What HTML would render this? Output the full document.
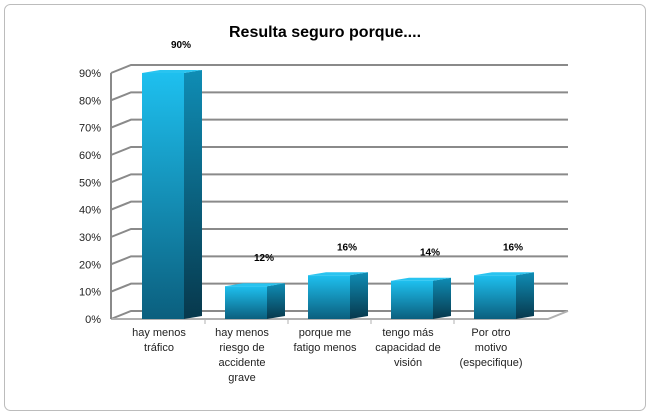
<!DOCTYPE html>
<html><head><meta charset="utf-8"><style>
body{margin:0;background:#fff;font-family:"Liberation Sans",sans-serif}
svg{display:block}
</style></head><body>
<svg width="650" height="415">
<defs>
<linearGradient id="front" x1="0" y1="0" x2="0" y2="1"><stop offset="0" stop-color="#1ec0ef"/><stop offset="1" stop-color="#0b5f7e"/></linearGradient>
<linearGradient id="side" x1="0" y1="0" x2="0" y2="1"><stop offset="0" stop-color="#0f8db5"/><stop offset="1" stop-color="#07384c"/></linearGradient>
</defs>
<rect x="4.5" y="4.5" width="641" height="406" rx="6" fill="#fff" stroke="#bcbcbc"/>
<text x="325" y="37" text-anchor="middle" font-size="16" font-weight="bold">Resulta seguro porque....</text>
<g id="grid"></g><g id="bars"></g><g id="labels"></g>
</svg>
<script>
const categories=[["hay menos","tráfico"],["hay menos","riesgo de","accidente","grave"],["porque me","fatigo menos"],["tengo más","capacidad de","visión"],["Por otro","motivo","(especifique)"]];
const values=[90,12,16,14,16];
const valueLabels=["90%","12%","16%","14%","16%"];
const ticks=[0,10,20,30,40,50,60,70,80,90];
const NS="http://www.w3.org/2000/svg";
const x0=111,x1=548,y0=319,ymax=73,dx=20,dy=-8,bw=42,sw=18,so=-3,band=83,start=31;
const y=v=>y0-(v/90)*(y0-ymax);
const bl=i=>x0+start+band*i;
function mk(tag,attrs,parent){const e=document.createElementNS(NS,tag);for(const k in attrs)e.setAttribute(k,attrs[k]);parent.appendChild(e);return e;}
const grid=document.getElementById('grid'),bars=document.getElementById('bars'),labels=document.getElementById('labels');
ticks.forEach(t=>{
  const yy=y(t);
  const g=mk('polyline',{points:`${x0},${yy} ${x0+dx},${yy+dy} ${x1+dx},${yy+dy}`,fill:'none',stroke:'#8a8a8a','stroke-width':2},grid);
  
  
  const tl=mk('text',{x:x0-10,y:yy+4,'text-anchor':'end','font-size':11,fill:'#222'},labels);
  tl.textContent=t+'%';
  
  
});
const floor=mk('polyline',{points:`${x0},${y0} ${x1},${y0} ${x1+dx},${y0+dy}`,fill:'none',stroke:'#b0b0b0','stroke-width':2},grid);


const ax=mk('line',{x1:x0,y1:y0,x2:x0,y2:ymax,stroke:'#8a8a8a','stroke-width':2},grid);


values.forEach((v,i)=>{
  const L=bl(i),R=L+bw,T=y(v),B=y0,c=L+bw/2;
  const g=mk('g',{},bars);
  
  
  mk('polygon',{points:`${R},${T} ${R+sw},${T+so} ${R+sw},${B+so} ${R},${B}`,fill:'url(#side)'},g);
  mk('polygon',{points:`${L},${T} ${L+sw},${T+so} ${R+sw},${T+so} ${R},${T}`,fill:'#29c4f0'},g);
  mk('rect',{x:L,y:T,width:bw,height:B-T,fill:'url(#front)'},g);
  const vl=mk('text',{x:c+18,y:T-25,'text-anchor':'middle','font-size':10,'font-weight':'bold'},labels);
  vl.textContent=valueLabels[i];
  
  
  const cl=mk('text',{'text-anchor':'middle','font-size':11,fill:'#222'},labels);
  
  
  categories[i].forEach((ln,j)=>{const s=mk('tspan',{x:c-4,y:336+j*15},cl);s.textContent=ln;});
  if(i>0){const tx=L-20;const tk=mk('line',{x1:tx,y1:y0,x2:tx,y2:y0+5,stroke:'#b0b0b0'},grid);
  
  }
});
</script>
</body></html>
